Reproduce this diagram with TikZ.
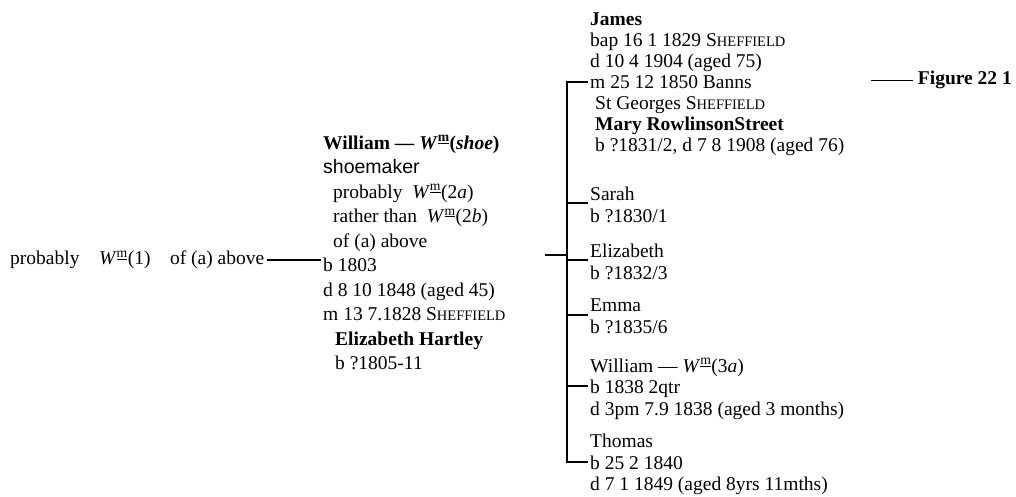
\documentclass[tikz,border=0pt]{standalone}
\usepackage{fontspec}
\setmainfont{Liberation Serif}
\setsansfont{Liberation Sans}
\usetikzlibrary{positioning}
\newcommand\wm[1]{\textit{W}\textsuperscript{\underline{m}}(#1)}
\newcommand\sheff{S{\fontsize{14.5}{14.5}\selectfont HEFFIELD}}
\tikzset{
  entry/.style={anchor=north west,inner sep=0pt,align=left},
  kids/.style={entry,font=\fontsize{19.5}{21.5}\selectfont},
  tie/.style={line width=1.6pt},
  stub/.style={line width=1.1pt,shorten >=2pt},
}

\begin{document}
\begin{tikzpicture}[x=1pt,y=-1pt]
\useasboundingbox (0,0) rectangle (1016,496);
% where he came from
\node[entry,anchor=west,font=\fontsize{19.5}{21.5}\selectfont] (ancestor) at (10,260)
  {probably\quad\wm{1}\quad of (a) above};
% the father
\node[entry,font=\fontsize{19.5}{24.5}\selectfont] (father) at (323,135) {%
\textbf{William --- \wm{\textit{shoe}}}\\
{\sffamily shoemaker}\\
\hspace*{10pt}probably\enspace\wm{2\textit{a}}\\
\hspace*{10pt}rather than\enspace\wm{2\textit{b}}\\
\hspace*{10pt}of (a) above\\
b 1803\\
d 8 10 1848 (aged 45)\\
m 13 7.1828 \sheff\\
\hspace*{12pt}\textbf{Elizabeth Hartley}\\
\hspace*{12pt}b ?1805-11};
% the children
\node[kids,font=\fontsize{19.5}{21}\selectfont] (james) at (590,13) {%
\textbf{James}\\
bap 16 1 1829 \sheff\\
d 10 4 1904 (aged 75)\\
m 25 12 1850 Banns\\
\hspace*{5pt}St Georges \sheff\\
\hspace*{5pt}\textbf{Mary RowlinsonStreet}\\
\hspace*{5pt}b ?1831/2, d 7 8 1908 (aged 76)};
\node[kids] (sarah) at (590,187) {Sarah\\ b ?1830/1};
\node[kids] (elizabeth) at (590,244) {Elizabeth\\ b ?1832/3};
\node[kids] (emma) at (590,299) {Emma\\ b ?1835/6};
\node[kids] (willson) at (590,358) {%
William --- \wm{3\textit{a}}\\
b 1838 2qtr\\
d 3pm 7.9 1838 (aged 3 months)};
\node[kids] (thomas) at (590,434) {%
Thomas\\
b 25 2 1840\\
d 7 1 1849 (aged 8yrs 11mths)};
% figure reference
\node[entry,anchor=east,font=\bfseries\fontsize{19.5}{21.5}\selectfont] (figref) at (1012,80) {Figure 22 1};
\coordinate[left=47pt of figref.west] (figlead);

% connectors
\coordinate (bartop) at (567,82);
\coordinate (barbot) at (567,462);
\coordinate (fathertie) at (545,255);
\coordinate (sarah-tie) at (567,203);
\coordinate (elizabeth-tie) at (567,260);
\coordinate (emma-tie) at (567,315);
\coordinate (willson-tie) at (567,386);
\draw[tie,shorten <=2pt,shorten >=2pt] (bartop -| james.west) -- (bartop) -- (barbot) -- (barbot -| thomas.west);
\foreach \kid in {sarah,elizabeth,emma,willson}
  \draw[stub] (\kid-tie) -- (\kid-tie -| \kid.west);
\draw[tie] (fathertie) -- (fathertie -| bartop);
\draw[stub,shorten <=3pt] (ancestor.east) -- (ancestor.east -| father.west);
\draw[line width=0.8pt,shorten >=5pt] (figlead) -- (figref.west);
\end{tikzpicture}
\end{document}
